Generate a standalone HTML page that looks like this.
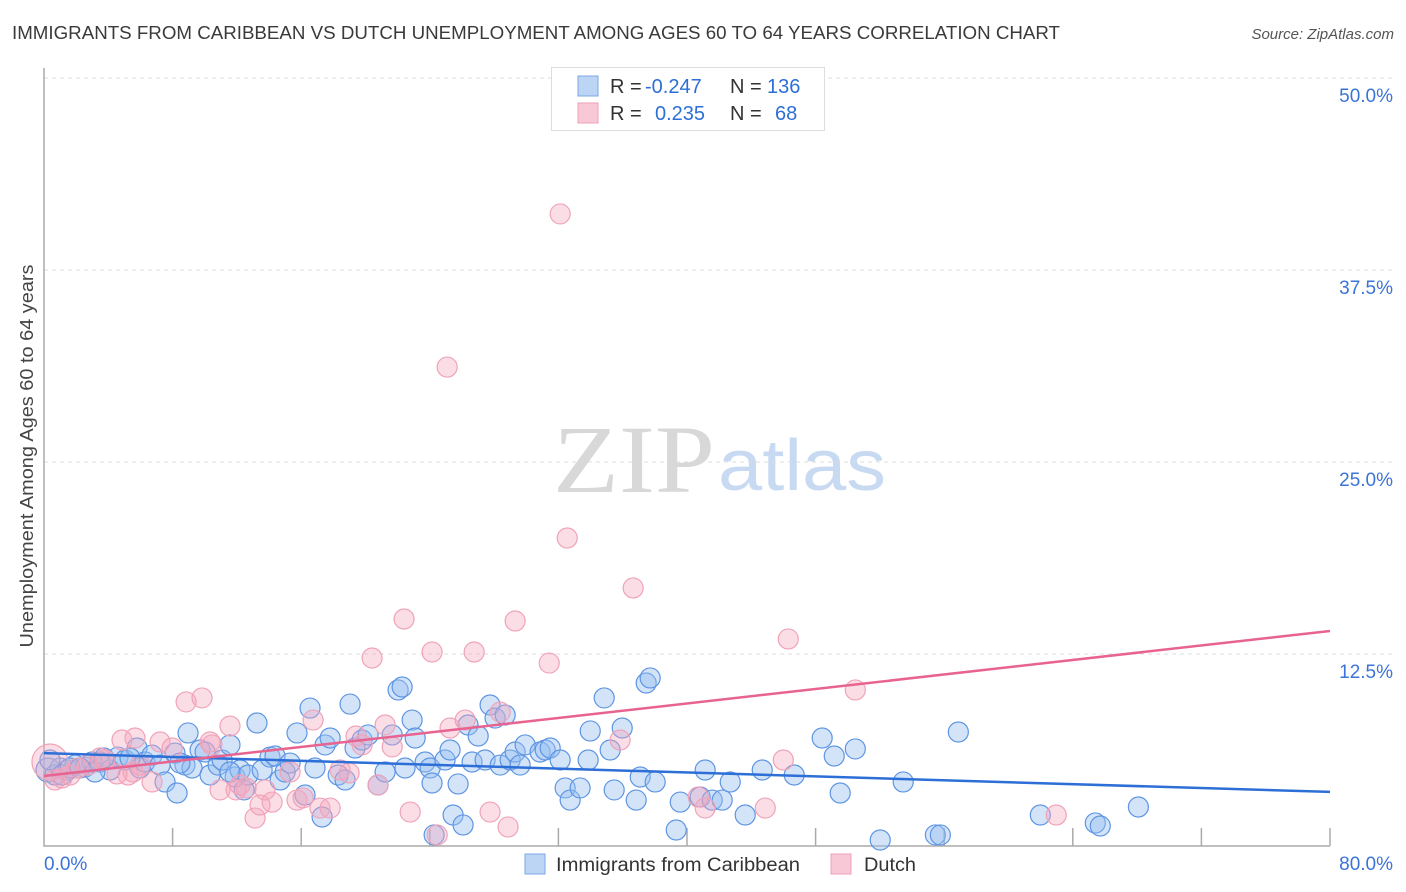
<!DOCTYPE html>
<html><head><meta charset="utf-8"><style>
body{margin:0;background:#fff;font-family:"Liberation Sans",sans-serif;}
#wrap{position:relative;width:1406px;height:892px;overflow:hidden;}
</style></head><body>
<div id="wrap">
<svg id="svg" width="1406" height="892">
<text x="12" y="39" font-size="18" fill="#3a3a3a" textLength="1048" lengthAdjust="spacingAndGlyphs">IMMIGRANTS FROM CARIBBEAN VS DUTCH UNEMPLOYMENT AMONG AGES 60 TO 64 YEARS CORRELATION CHART</text>
<text x="1394" y="39" font-size="15" fill="#555" text-anchor="end" font-style="italic">Source: ZipAtlas.com</text>
<text transform="translate(33,456) rotate(-90)" font-size="18" fill="#444" text-anchor="middle" textLength="383" lengthAdjust="spacingAndGlyphs">Unemployment Among Ages 60 to 64 years</text>
<g><text x="553" y="492" font-size="96" fill="#d8d8d8" font-family="Liberation Serif,serif" textLength="162" lengthAdjust="spacingAndGlyphs">ZIP</text><text x="718" y="490" font-size="72" fill="#c8daf2" textLength="168" lengthAdjust="spacingAndGlyphs">atlas</text></g>
<g id="grid"></g><g id="marks"></g><g id="trend"></g>
<g>
<rect x="551.5" y="67.5" width="273" height="63" fill="#fff" stroke="#ddd"/>
<rect x="578" y="76" width="20" height="20" fill="#bcd5f5" stroke="#7aa7e6"/>
<rect x="578" y="103" width="20" height="20" fill="#f9c8d6" stroke="#f0a0b8"/>
<text x="610" y="93" font-size="20" fill="#333">R = <tspan x="645" fill="#2d6fd6">-0.247</tspan><tspan x="730">N = </tspan><tspan x="767" fill="#2d6fd6">136</tspan></text>
<text x="610" y="120" font-size="20" fill="#333">R = <tspan x="655" fill="#2d6fd6">0.235</tspan><tspan x="730">N = </tspan><tspan x="775" fill="#2d6fd6">68</tspan></text>
</g>
<g>
<rect x="525" y="854" width="20" height="20" fill="#bcd5f5" stroke="#7aa7e6"/>
<text x="556" y="871" font-size="19" fill="#333" textLength="244" lengthAdjust="spacingAndGlyphs">Immigrants from Caribbean</text>
<rect x="831" y="854" width="20" height="20" fill="#f9c8d6" stroke="#f0a0b8"/>
<text x="864" y="871" font-size="19" fill="#333" textLength="52" lengthAdjust="spacingAndGlyphs">Dutch</text>
</g>
</svg></div>
<script>
const yTicks=[12.5,25,37.5,50];
const yTickLabels=["12.5%","25.0%","37.5%","50.0%"];
const xTickLabels=["0.0%","80.0%"];
const blueX=[0.25,0.68,1.0,1.49,1.93,2.55,2.99,3.48,4.11,4.6,5.04,5.79,5.97,6.28,6.72,7.22,7.53,8.28,8.77,8.96,9.21,9.71,10.02,10.33,10.83,11.08,11.57,11.89,12.2,12.45,12.69,13.25,13.57,14.06,14.37,14.69,15.0,15.31,15.74,16.24,16.55,16.86,17.3,17.49,17.8,18.3,18.73,19.04,19.35,19.79,20.16,20.78,21.22,21.66,22.03,22.28,22.46,22.9,23.09,23.71,24.02,24.14,24.27,24.95,25.26,25.45,25.76,26.07,26.38,26.63,27.01,27.44,27.75,28.06,28.38,28.69,29.0,29.31,29.62,29.93,30.86,31.18,31.49,32.11,32.42,32.73,33.35,33.85,33.98,34.85,35.22,35.47,35.97,36.84,37.09,37.46,37.71,38.02,39.33,39.58,40.82,41.13,41.57,42.19,42.69,43.62,44.68,46.67,48.41,49.16,49.53,50.47,52.02,53.45,55.45,55.76,56.88,61.98,65.4,65.71,68.08,0.37,1.12,1.62,2.24,3.17,3.73,5.35,8.15,8.46,11.57];
const blueY=[4.95,4.62,5.08,4.95,5.27,5.14,5.47,5.47,4.95,5.79,5.6,6.38,5.08,5.47,5.92,5.27,4.17,3.45,5.27,7.36,5.08,6.25,6.12,4.62,5.27,5.6,6.58,4.49,4.95,3.65,4.62,8.01,4.95,5.79,5.86,4.3,4.82,5.4,7.36,3.32,8.98,5.08,1.89,6.58,7.03,4.62,4.3,9.24,6.38,6.9,7.23,3.97,4.82,7.23,10.16,10.35,5.08,8.2,7.03,5.47,5.08,4.1,0.72,5.6,6.25,2.02,4.04,1.37,7.88,5.47,7.16,5.6,9.18,8.33,5.27,8.53,5.6,6.12,5.27,6.58,6.12,6.25,6.38,5.6,3.78,2.99,3.78,5.6,7.49,9.64,6.25,3.65,7.68,2.99,4.49,10.61,10.94,4.17,1.04,2.86,3.19,4.95,2.99,2.99,4.17,2.02,4.95,4.62,7.03,5.86,3.45,6.32,0.39,4.17,0.72,0.72,7.42,2.02,1.5,1.3,2.54,5.6,4.62,5.08,5.08,4.82,5.73,5.73,6.05,5.4,4.82];
const pinkX=[0.37,0.68,1.12,1.62,2.12,2.74,3.48,3.8,4.85,5.23,5.54,5.97,6.72,7.22,7.97,8.84,9.83,10.45,10.95,11.57,11.95,12.2,12.57,13.13,13.44,13.75,14.19,15.31,15.74,16.12,16.74,17.17,17.8,18.42,18.98,19.41,19.79,20.41,20.78,21.22,21.66,22.4,22.78,24.14,24.46,25.26,25.08,26.2,26.76,27.75,28.38,28.87,29.31,31.43,32.11,32.55,35.84,36.65,40.7,41.13,44.87,45.99,46.3,50.47,62.97,5.66,10.33,4.54];
const pinkY=[5.47,4.3,4.43,4.62,5.08,5.27,5.73,5.6,6.9,4.62,4.82,5.27,4.17,6.77,6.38,9.38,9.64,6.58,3.65,7.81,3.65,3.97,3.78,1.82,2.67,3.65,2.86,4.82,2.99,3.13,8.2,2.47,2.47,4.95,4.75,7.16,6.58,12.24,3.97,7.88,6.45,14.78,2.21,12.63,0.72,7.68,31.18,8.2,12.63,2.21,8.72,1.24,14.65,11.91,41.15,20.05,6.9,16.8,3.19,2.47,2.47,5.6,13.48,10.16,2.02,7.03,6.77,4.69];
const blueTrend=[6.05,3.52];
const pinkTrend=[4.56,14.0];
const xDomain=[0,80];
const NS="http://www.w3.org/2000/svg";
const L=44,R=1330,B=846,PX=15.36;
function sx(v){return L+(v-xDomain[0])/(xDomain[1]-xDomain[0])*(R-L);}
function sy(v){return B-v*PX;}
function mk(t,a,p){const e=document.createElementNS(NS,t);for(const k in a)e.setAttribute(k,a[k]);p.appendChild(e);return e;}
const grid=document.getElementById('grid');
yTicks.forEach((t,i)=>{
 const ln=mk('line',{x1:L,x2:1393,y1:sy(t),y2:sy(t),stroke:'#ddd','stroke-dasharray':'4,4'},grid);
 
 
 const tx=mk('text',{x:1393,y:sy(t)+24,'font-size':19,fill:'#3b74d6','text-anchor':'end'},grid);
 tx.textContent=yTickLabels[i];
 
 
});
const ax=mk('path',{d:`M${L},68V${B}H${R}`,stroke:'#aaa',fill:'none','stroke-width':1.5},grid);


for(let k=1;k<=10;k++){const x=sx(k*8);const t=mk('line',{x1:x,x2:x,y1:B-18,y2:B,stroke:'#aaa','stroke-width':1.5},grid);
 
 }
const xl0=mk('text',{x:44,y:870,'font-size':19,fill:'#3b74d6'},grid);xl0.textContent=xTickLabels[0];


const xl1=mk('text',{x:1393,y:870,'font-size':19,fill:'#3b74d6','text-anchor':'end'},grid);xl1.textContent=xTickLabels[1];


const marks=document.getElementById('marks');
blueX.forEach((x,i)=>{const c=mk('circle',{cx:sx(x),cy:sy(blueY[i]),r:i===0?12:10,fill:'rgba(150,190,240,0.42)',stroke:'#5e95e2','stroke-width':1.2},marks);
 
 });
pinkX.forEach((x,i)=>{const c=mk('circle',{cx:sx(x),cy:sy(pinkY[i]),r:i===0?18:10,fill:'rgba(245,165,190,0.38)',stroke:'#f0a3b8','stroke-width':1.2},marks);
 
 });
const tr=document.getElementById('trend');
const bl=mk('line',{x1:sx(0),x2:sx(80),y1:sy(blueTrend[0]),y2:sy(blueTrend[1]),stroke:'#2d6fd6','stroke-width':2.5},tr);


const pl=mk('line',{x1:sx(0),x2:sx(80),y1:sy(pinkTrend[0]),y2:sy(pinkTrend[1]),stroke:'#e8638f','stroke-width':2.5},tr);


</script>
</body></html>
